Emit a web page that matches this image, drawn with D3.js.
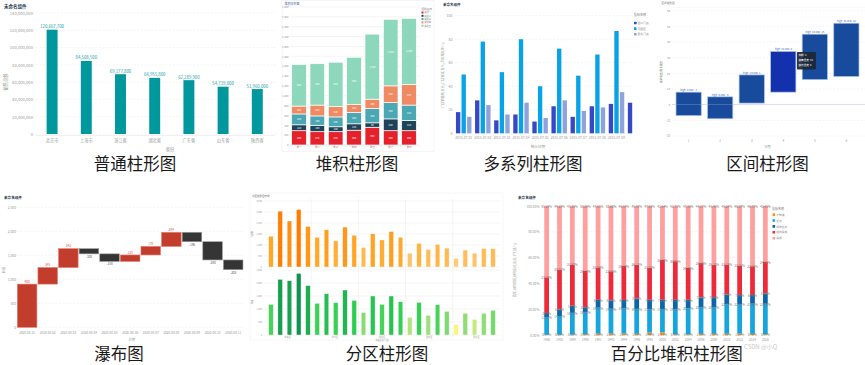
<!DOCTYPE html>
<html><head><meta charset="utf-8">
<script src="https://cdn.jsdelivr.net/npm/d3@7"></script>
<style>body{margin:0;background:#fff}svg{display:block}</style>
</head><body><svg id="c" width="865" height="365"></svg>
<script>
// ---------- DATA ----------
const captions = ["普通柱形图","堆积柱形图","多系列柱形图","区间柱形图","瀑布图","分区柱形图","百分比堆积柱形图"];

const provinces = ["北京市","上海市","浙江省","湖北省","广东省","山东省","陕西省"];
const provinceSales = [120667700,84508500,69177800,64955800,62289900,54719000,51960000];
const salesTicks = [0,20000000,40000000,60000000,80000000,100000000,120000000,140000000];

const stackDays = ["周一","周二","周三","周四","周五","周六","周日"];
const stackNames = ["类别一","类别二","类别三","类别四","类别五"];
const stackA = [290,270,270,300,360,290,290];
const stackB = [120,130,100,130,90,240,210];
const stackC = [220,190,200,230,290,330,310];
const stackD = [160,220,210,160,190,340,420];
const stackE = [840,840,900,960,1320,1350,1340];
const stackTicks = [0,200,400,600,800,1000,1200,1400,1600,1800,2000,2200,2400,2600,2800];

const multiDates = ["2015-07-01","2015-07-02","2015-07-03","2015-07-04","2015-07-05","2015-07-06","2015-07-07","2015-07-08","2015-07-09","2015-07-10"];
const multiNames = ["西川门店","河西区","西北门店"];
const storeA = [18,28,11,16,10,23,14,23,25,26];
const storeB = [50,78,52,80,40,72,49,67,87,null];
const storeC = [14,24,16,26,13,28,19,22,35,null];
const multiTicks = [0,20,40,60,80,100];

const intervalDays = ["1","2","3","4","5","6"];
const highTemps = [8,5,19,34,45,52];
const lowTemps = [-7,-9,1,8,16,18];
const intervalTicks = [-20,-10,0,10,20,30,40,50,60];

const wfDates = ["2020-08-01","2020-08-02","2020-08-03","2020-08-04","2020-08-05","2020-08-06","2020-08-07","2020-08-08","2020-08-09","2020-08-10","2020-08-11"];
const wfChanges = [900,345,393,-108,-158,135,178,294,-196,-380,-203];
const wfTicks = [0,500,1000,1500,2000,2500];

const zoneSections = ["华东区","华南区","华北区","西南区","西北区"];
const zoneStores = ["E1","E2","E3","E4","E5","S1","S2","S3","S4","S5","N1","N2","N3","N4","N5","W1","W2","W3","W4","W5","X1","X2","X3","X4","X5"];
const zoneTop = [1400,2540,2090,2615,1845, 1350,1690,1185,1815,1445, 890,1510,1230,1615,1355, 630,1075,800,1030,860, 400,770,630,845,830];
const zoneBottom = [1180,2140,2090,2370,1900, 1220,1590,1245,1730,1330, 870,1500,1180,1500,1280, 680,1255,755,1165,910, 400,835,600,835,950];
const zoneTopTicks = [0,500,1000,1500,2000,2500,3000];
const zoneBottomTicks = [0,500,1000,1500,2000,2500];

const pctYears = ["1986","1988","1989","1990","1991","1993","1994","1996","1998","2000","2002","2004","2006","2008","2010","2012","2014","2016"];
const pctNames = ["不知道","反对","倾向反对","倾向赞成","赞成"];
const pctUnknown = [0.19,0.20,0.30,0.68,1.20,1.33,1.25,1.00,1.90,2.15,0.50,0.51,1.00,1.00,1.01,1.20,0.90,0.57];
const pctOppose = [13.37,14.51,16.88,16.91,19.95,19.02,19.41,19.25,17.88,17.93,19.45,20.27,20.54,20.67,22.73,22.41,23.36,23.63];
const pctLeanOppose = [3.46,5.16,5.49,3.91,6.11,6.47,6.51,8.10,7.52,7.23,7.28,6.51,7.56,7.65,7.73,7.31,6.70,8.05];
const pctLeanFavor = [27.73,30.85,31.97,28.12,25.09,22.58,26.29,26.15,25.02,31.05,30.02,24.86,26.63,25.23,23.19,23.01,22.34,24.32];
const pctFavor = [55.25,49.28,45.36,50.38,47.65,50.60,46.54,45.50,47.68,41.64,42.75,47.85,44.27,45.45,45.34,46.07,46.70,43.43];
const pctTicks = [0,0.2,0.4,0.6,0.8,1.0];

// ---------- HELPERS ----------
const FONT = "'Noto Sans CJK SC','Noto Sans',sans-serif";
const svg = d3.select("#c").attr("font-family", FONT);
function txt(g,x,y,s,o={}){
  return g.append("text").attr("x",x).attr("y",y).text(s)
    .attr("font-size",o.size||4).attr("fill",o.fill||"#999")
    .attr("text-anchor",o.anchor||"start").attr("font-weight",o.weight||"normal");
}
function vtxt(g,x,y,s,o={}){
  return g.append("text").attr("transform",`translate(${x},${y}) rotate(-90)`).text(s)
    .attr("font-size",o.size||3.5).attr("fill",o.fill||"#999").attr("text-anchor","middle");
}
function yAxis(g, scale, x, ticks, fmt, size, gx0, gx1, dashed){
  g.append("g").selectAll("line").data(ticks).join("line")
    .attr("x1",gx0).attr("x2",gx1).attr("y1",d=>scale(d)).attr("y2",d=>scale(d))
    .attr("stroke","#e9e9e9").attr("stroke-width",0.5).attr("stroke-dasharray",dashed?"2,1.5":null);
  const a = g.append("g").attr("transform",`translate(${x},0)`)
    .call(d3.axisLeft(scale).tickValues(ticks).tickSize(0).tickPadding(0).tickFormat(fmt));
  a.select(".domain").remove();
  a.attr("font-family",FONT).attr("font-size",size);
  a.selectAll("text").attr("fill","#9a9a9a");
  return a;
}
function xAxis(g, scale, y, size, pad){
  const a = g.append("g").attr("transform",`translate(0,${y})`)
    .call(d3.axisBottom(scale).tickSize(0).tickPadding(pad||1));
  a.select(".domain").attr("stroke","#e3e3e3").attr("stroke-width",0.5);
  a.attr("font-family",FONT).attr("font-size",size);
  a.selectAll("text").attr("fill","#9a9a9a");
  return a;
}
const fmtC = d3.format(",");

// ---------- PANEL 1: 普通柱形图 ----------
{
  const g = svg.append("g");
  txt(g,4,8,"未命名组件",{size:4.5,fill:"#2b3a4f",weight:"bold"});
  const y = d3.scaleLinear().domain([0,140000000]).range([134,13]);
  const x = d3.scaleBand().domain(provinces).range([35,274.4]).paddingInner(0.68).paddingOuter(0.34);
  yAxis(g,y,33,salesTicks,fmtC,4.2,36,276,true);
  g.selectAll("rect.p1").data(provinces).join("rect")
    .attr("x",d=>x(d)).attr("width",x.bandwidth())
    .attr("y",(d,i)=>y(provinceSales[i])).attr("height",(d,i)=>y(0)-y(provinceSales[i]))
    .attr("fill","#00979d");
  g.selectAll("text.v1").data(provinces).join("text")
    .attr("x",d=>x(d)+x.bandwidth()/2).attr("y",(d,i)=>y(provinceSales[i])-1.5)
    .attr("text-anchor","middle").attr("font-size",4.3).attr("fill","#1a9ea6")
    .text((d,i)=>fmtC(provinceSales[i]));
  xAxis(g,x,135,4.2,4);
  txt(g,170,150.5,"省份",{size:4.2,anchor:"middle"});
  vtxt(g,7,82,"销售总额",{size:4.2});
}

// ---------- PANEL 2: 堆积柱形图 ----------
{
  const g = svg.append("g");
  g.append("rect").attr("x",282).attr("y",0.5).attr("width",152).attr("height",151)
    .attr("fill","none").attr("stroke","#efefef").attr("stroke-width",0.6);
  txt(g,284.5,5,"堆积柱形图",{size:3,fill:"#5472a8"});
  g.append("line").attr("x1",284).attr("x2",293).attr("y1",6).attr("y2",6).attr("stroke","#c5d2e8").attr("stroke-width",0.4);
  const y = d3.scaleLinear().domain([0,2800]).range([145,7]);
  const x = d3.scaleBand().domain(stackDays).range([288,420]).padding(0.2);
  yAxis(g,y,288.5,stackTicks,fmtC,2.6,290,420,false);
  const table = stackDays.map((d,i)=>({day:d,a:stackA[i],b:stackB[i],c:stackC[i],d:stackD[i],e:stackE[i]}));
  const keys = ["a","b","c","d","e"];
  const colors = ["#e5222c","#1f4459","#4aa7b3","#f08a63","#8dd8bc"];
  const series = d3.stack().keys(keys)(table);
  series.forEach((s,k)=>{
    g.selectAll(null).data(s).join("rect")
      .attr("x",d=>x(d.data.day)).attr("width",x.bandwidth())
      .attr("y",d=>y(d[1])).attr("height",d=>y(d[0])-y(d[1]))
      .attr("fill",colors[k]).attr("stroke","#fff").attr("stroke-width",0.7);
    g.selectAll(null).data(s).join("text")
      .attr("x",d=>x(d.data.day)+x.bandwidth()/2).attr("y",d=>(y(d[0])+y(d[1]))/2+0.9)
      .attr("text-anchor","middle").attr("font-size",2.5).attr("fill","#fff")
      .text(d=>fmtC(d[1]-d[0]));
  });
  xAxis(g,x,145.5,2.6,1);
  txt(g,421.5,9.5,"图例名称",{size:2.6,fill:"#777"});
  stackNames.forEach((n,i)=>{
    g.append("rect").attr("x",421.5).attr("y",11.5+i*3.3).attr("width",2).attr("height",2).attr("fill",colors[i]);
    txt(g,424.2,13.3+i*3.3,n,{size:2.3,fill:"#888"});
  });
}

// ---------- PANEL 3: 多系列柱形图 ----------
{
  const g = svg.append("g");
  txt(g,443,6,"未命名组件",{size:3.5,fill:"#2b3a4f",weight:"bold"});
  const y = d3.scaleLinear().domain([0,100]).range([133.3,15.7]);
  const x = d3.scaleBand().domain(multiDates).range([454.15,645.15]);
  yAxis(g,y,452.5,multiTicks,d3.format("d"),3.6,455,633,true);
  const x1 = d3.scaleBand().domain(multiNames).range([0,15.5]).paddingInner(0.22);
  const colors = ["#3548c6","#08a3e6","#8ea2dc"];
  const vals = [storeA,storeB,storeC];
  g.append("clipPath").attr("id","clip3").append("rect").attr("x",454).attr("y",0).attr("width",179).attr("height",140);
  const bars = g.append("g").attr("clip-path","url(#clip3)");
  multiNames.forEach((n,k)=>{
    bars.selectAll(null).data(multiDates.filter((d,i)=>vals[k][i]!=null)).join("rect")
      .attr("x",d=>x(d)+x.bandwidth()/2-7.75+x1(n)).attr("width",x1.bandwidth())
      .attr("y",d=>y(vals[k][multiDates.indexOf(d)])).attr("height",d=>y(0)-y(vals[k][multiDates.indexOf(d)]))
      .attr("fill",colors[k]);
  });
  const ax = xAxis(g,x,134,3.3,2.5);
  ax.selectAll(".tick").filter(d=>x(d)+x.bandwidth()/2>633).remove();
  ax.select(".domain").remove();
  txt(g,538,148,"统计日期",{size:3.5,anchor:"middle"});
  vtxt(g,443.5,75,"门店销售额(万元)/门店客流(百人)/同比增长率(%)",{size:3});
  txt(g,634,16,"指标名称",{size:3,fill:"#777"});
  multiNames.forEach((n,i)=>{
    g.append("rect").attr("x",634).attr("y",21.7+i*5.6).attr("width",2.6).attr("height",2.6).attr("rx",0.6).attr("fill",colors[i]);
    txt(g,637.5,24.1+i*5.6,n,{size:2.8,fill:"#888"});
  });
}

// ---------- PANEL 4: 区间柱形图 ----------
{
  const g = svg.append("g");
  txt(g,661.5,3.8,"区间柱形图",{size:2.6,fill:"#666"});
  g.append("line").attr("x1",672).attr("x2",865).attr("y1",7.3).attr("y2",7.3).attr("stroke","#eee").attr("stroke-width",0.5);
  const y = d3.scaleLinear().domain([-20,60]).range([136,10.7]);
  const x = d3.scaleBand().domain(intervalDays).range([669.7,865.3]).padding(0.2);
  yAxis(g,y,670,intervalTicks,d3.format("d"),2.8,672,865,true);
  g.selectAll("rect.iv").data(intervalDays).join("rect")
    .attr("x",d=>x(d)).attr("width",x.bandwidth())
    .attr("y",(d,i)=>y(highTemps[i])).attr("height",(d,i)=>y(lowTemps[i])-y(highTemps[i]))
    .attr("fill",(d,i)=>i===3?"#1431ad":"#194b9d").attr("stroke","#a8c2ea").attr("stroke-width",0.7);
  g.append("line").attr("x1",672).attr("x2",865).attr("y1",y(0)).attr("y2",y(0)).attr("stroke","#9fb1d2").attr("stroke-width",0.5).attr("opacity",0.8);
  g.selectAll("text.iv").data(intervalDays).join("text")
    .attr("x",d=>x(d)+x.bandwidth()/2).attr("y",(d,i)=>y(highTemps[i])-1.2)
    .attr("text-anchor","middle").attr("font-size",2.6).attr("fill","#3d63b5")
    .text((d,i)=>`high: ${highTemps[i]} low: ${lowTemps[i]}`);
  const ax = xAxis(g,x,139,3,1);
  ax.select(".domain").remove();
  txt(g,767.5,148,"日期",{size:3,anchor:"middle"});
  vtxt(g,662,72,"最高温度/最低温度",{size:2.6,fill:"#777"});
  const tx = x("4")+x.bandwidth()+1, ty = y(highTemps[3])+0.5;
  g.append("rect").attr("x",tx).attr("y",ty).attr("width",19).attr("height",17.5).attr("rx",0.8).attr("fill","#1c2533").attr("opacity",0.92);
  ["日期: 4",`最高温度: ${highTemps[3]}`,`最低温度: ${lowTemps[3]}`].forEach((s,i)=>txt(g,tx+1.5,ty+4.5+i*5,s,{size:2.6,fill:"#fff"}));
}

// ---------- PANEL 5: 瀑布图 ----------
{
  const g = svg.append("g");
  txt(g,4,198.5,"未命名组件",{size:3.6,fill:"#2b3a4f",weight:"bold"});
  const y = d3.scaleLinear().domain([0,2500]).range([327.3,207.3]);
  const x = d3.scaleBand().domain(wfDates).range([16.3,244]).padding(0.05);
  yAxis(g,y,16,wfTicks,fmtC,3.3,17,244,true);
  const cum = Array.from(d3.cumsum(wfChanges));
  const start = cum.map((c,i)=>c-wfChanges[i]);
  g.selectAll("rect.wf").data(wfDates).join("rect")
    .attr("x",d=>x(d)).attr("width",x.bandwidth())
    .attr("y",(d,i)=>y(Math.max(start[i],cum[i]))).attr("height",(d,i)=>Math.abs(y(start[i])-y(cum[i])))
    .attr("fill",(d,i)=>wfChanges[i]>=0?"#c33d2c":"#353535")
    .attr("stroke",(d,i)=>wfChanges[i]>=0?"#e77a6c":"#9a9a9a").attr("stroke-width",0.6);
  g.selectAll("text.wf").data(wfDates).join("text")
    .attr("x",d=>x(d)+x.bandwidth()/2)
    .attr("y",(d,i)=>wfChanges[i]>=0?y(cum[i])-1.3:y(cum[i])+4)
    .attr("text-anchor","middle").attr("font-size",3.1)
    .attr("fill",(d,i)=>wfChanges[i]>=0?"#e0574a":"#555")
    .text((d,i)=>wfChanges[i]);
  const ax = xAxis(g,x,329,3.1,2.5);
  ax.select(".domain").remove();
  txt(g,131.7,341.3,"日期",{size:3.2,anchor:"middle"});
  vtxt(g,4.5,270,"数值",{size:3.2});
}

// ---------- PANEL 6: 分区柱形图 ----------
{
  const g = svg.append("g");
  g.append("rect").attr("x",250).attr("y",193).attr("width",253).attr("height",147)
    .attr("fill","none").attr("stroke","#f0f0f0").attr("stroke-width",0.6);
  txt(g,252,196.5,"分区柱形图示例",{size:2.5,fill:"#555"});
  const x = d3.scaleBand().domain(zoneStores).range([264,500]).padding(0.5);
  const yT = d3.scaleLinear().domain([0,3000]).range([267,201]);
  const yB = d3.scaleLinear().domain([0,2500]).range([335,270]);
  yAxis(g,yT,262,zoneTopTicks,fmtC,2.2,264,500,false);
  yAxis(g,yB,262,zoneBottomTicks,fmtC,2.2,264,500,false);
  const secW = 236/zoneSections.length;
  g.selectAll("line.sec").data(d3.range(1,zoneSections.length)).join("line")
    .attr("x1",d=>264+d*secW).attr("x2",d=>264+d*secW).attr("y1",199).attr("y2",337)
    .attr("stroke","#e8e8e8").attr("stroke-width",0.5);
  const cT = d3.scaleLinear().domain([400,1400,2600]).range(["#ffcb7a","#ffa726","#ff7d00"]);
  const cB = d3.scaleLinear().domain([400,750,1300,2400]).range(["#fbf57c","#9fe07c","#2ecf50","#10904f"]);
  g.selectAll("rect.zt").data(zoneStores).join("rect")
    .attr("x",d=>x(d)).attr("width",x.bandwidth())
    .attr("y",(d,i)=>yT(zoneTop[i])).attr("height",(d,i)=>yT(0)-yT(zoneTop[i]))
    .attr("fill",(d,i)=>cT(zoneTop[i])).attr("stroke","#fff").attr("stroke-width",0.4);
  g.selectAll("rect.zb").data(zoneStores).join("rect")
    .attr("x",d=>x(d)).attr("width",x.bandwidth())
    .attr("y",(d,i)=>yB(zoneBottom[i])).attr("height",(d,i)=>yB(0)-yB(zoneBottom[i]))
    .attr("fill",(d,i)=>cB(zoneBottom[i])).attr("stroke","#fff").attr("stroke-width",0.4);
  zoneSections.forEach((s,i)=>txt(g,264+(i+0.5)*secW,338,s,{size:2.2,anchor:"middle"}));
  txt(g,382,341,"销售区域/门店",{size:2,anchor:"middle"});
  vtxt(g,253,234,"销售额",{size:2.2});
  vtxt(g,253,302,"利润",{size:2.2});
}

// ---------- PANEL 7: 百分比堆积柱形图 ----------
{
  const g = svg.append("g");
  txt(g,518,198.5,"未命名组件",{size:3.6,fill:"#2b3a4f",weight:"bold"});
  const y = d3.scaleLinear().domain([0,1]).range([335,206]);
  const x = d3.scaleBand().domain(pctYears).range([540.2,771.8]).paddingInner(0.63).paddingOuter(0.315);
  yAxis(g,y,539.5,pctTicks,d3.format(".2%"),3.3,541,772,true);
  const table = pctYears.map((d,i)=>({year:d,u:pctUnknown[i],o:pctOppose[i],lo:pctLeanOppose[i],lf:pctLeanFavor[i],f:pctFavor[i]}));
  const keys = ["u","o","lo","lf","f"];
  const colors = ["#f39a1e","#16a6df","#0a66a8","#ee2a3a","#ff9f9f"];
  const series = d3.stack().keys(keys).offset(d3.stackOffsetExpand)(table);
  series.forEach((s,k)=>{
    g.selectAll(null).data(s).join("rect")
      .attr("x",d=>x(d.data.year)).attr("width",x.bandwidth())
      .attr("y",d=>y(d[1])).attr("height",d=>Math.max(0,y(d[0])-y(d[1])))
      .attr("fill",colors[k]);
  });
  series.forEach((s,k)=>{
    g.selectAll(null).data(s).join("text")
      .attr("x",d=>x(d.data.year)+x.bandwidth()/2).attr("y",d=>k===0?y(0)+0.9:y(d[1])+1.8)
      .attr("text-anchor","middle").attr("font-size",3.1).attr("fill","#777")
      .text(d=>d.data[keys[k]].toFixed(2)+"%");
  });
  const ax = xAxis(g,x,336.5,3.1,2.2);
  ax.select(".domain").remove();
  vtxt(g,516,270,"赞成/倾向赞成/倾向反对/反对/不知道(%)",{size:3});
  txt(g,772,210,"指标名称",{size:3,fill:"#777"});
  pctNames.forEach((n,i)=>{
    g.append("rect").attr("x",772.5).attr("y",213.3+i*5.9).attr("width",2.6).attr("height",2.6).attr("rx",0.5).attr("fill",colors[i]);
    txt(g,776.2,215.7+i*5.9,n,{size:2.8,fill:"#888"});
  });
  txt(g,744,349,"CSDN @小Q",{size:6,fill:"#c9c9c9"});
}

// ---------- CAPTIONS ----------
const capPos = [[135,170],[357,170],[533,170],[767.5,170],[119,360],[387,360],[676.7,360]];
svg.selectAll("text.cap").data(captions).join("text").attr("class","cap")
  .attr("x",(d,i)=>capPos[i][0]).attr("y",(d,i)=>capPos[i][1])
  .attr("text-anchor","middle").attr("font-size",16.5).attr("fill","#1a1a1a").text(d=>d);
</script></body></html>
